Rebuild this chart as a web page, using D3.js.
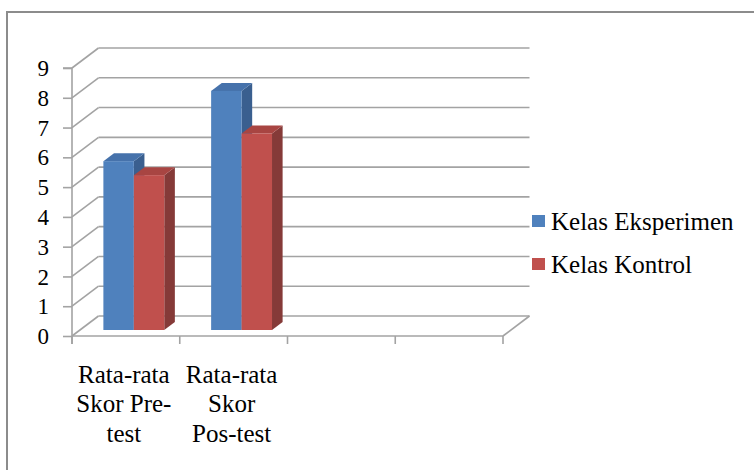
<!DOCTYPE html>
<html>
<head>
<meta charset="utf-8">
<script src="https://cdn.jsdelivr.net/npm/d3@7"></script>
</head>
<body style="margin:0;padding:0;background:#fff">
<svg id="chart" width="754" height="470" style="display:block"></svg>
<script>
// Category slots on the x axis (two empty slots keep the floor wide)
const categories = ["pre", "pos", "slot3", "slot4"];
const categoryLines = [
  ["Rata-rata", "Skor Pre-", "test"],
  ["Rata-rata", "Skor", "Pos-test"],
  [],
  []
];
const seriesNames = ["Kelas Eksperimen", "Kelas Kontrol"];
const kelasEksperimen = [5.67, 8.03, null, null];
const kelasKontrol = [5.2, 6.6, null, null];
const yTicks = [0, 1, 2, 3, 4, 5, 6, 7, 8, 9];

const SERIF = "Liberation Serif";

// serif text helper: family and size set inline with priority
function serif(sel, size) {
  return sel.attr("font-family", SERIF).attr("font-size", size)
    .style("font-family", SERIF, "important")
    .style("font-size", size + "px", "important")
    .attr("fill", "#000");
}

const svg = d3.select("#chart");
const W = 754, H = 470;

svg.append("rect").attr("width", W).attr("height", H).attr("fill", "#fff");
// outer frame
svg.append("rect")
  .attr("x", 7).attr("y", 12).attr("width", W + 10).attr("height", H + 10)
  .attr("fill", "none").attr("stroke", "#8c8c8c").attr("stroke-width", 2);

// 3D projection: depth offset of the back wall
const DX = 26.5, DY = -20;
const y = d3.scaleLinear().domain([0, 9]).range([336, 68]);
const x = d3.scaleBand().domain(categories).range([72, 503]);
const xs = d3.scaleBand().domain(seriesNames).range([0, x.bandwidth()])
  .paddingInner(0).paddingOuter(0.77);

const gridColor = "#a3a3a3";
const grid = svg.append("g").attr("stroke", gridColor).attr("stroke-width", 1.6).attr("fill", "none");

// back wall gridlines and side wall diagonals
yTicks.forEach(v => {
  grid.append("line")
    .attr("x1", 72 + DX).attr("y1", y(v) + DY)
    .attr("x2", x.range()[1] + DX).attr("y2", y(v) + DY);
  grid.append("line")
    .attr("x1", 72).attr("y1", y(v))
    .attr("x2", 72 + DX).attr("y2", y(v) + DY);
});
// floor right edge
grid.append("line")
  .attr("x1", x.range()[1]).attr("y1", y(0))
  .attr("x2", x.range()[1] + DX).attr("y2", y(0) + DY);

// value axis (front)
const yAxis = d3.axisLeft(y).tickValues(yTicks).tickSize(9).tickPadding(14).tickFormat(d3.format("d"));
const gy = svg.append("g").attr("transform", "translate(72,0)").call(yAxis)
  .attr("font-family", SERIF).attr("font-size", 23);
gy.select(".domain").attr("stroke", gridColor).attr("stroke-width", 1.6).attr("d", `M-9,${y(9)}H0V${y(0) + 8}`);
gy.selectAll(".tick line").attr("stroke", gridColor).attr("stroke-width", 1.6);
serif(gy.selectAll(".tick text"), 23).attr("dy", "0.33em");

// category axis (front floor edge)
const gx = svg.append("g");
gx.append("line").attr("x1", 72).attr("x2", x.range()[1]).attr("y1", y(0)).attr("y2", y(0))
  .attr("stroke", gridColor).attr("stroke-width", 1.6);
const tickXs = categories.map(c => x(c)).concat([x.range()[1]]);
gx.selectAll("line.tk").data(tickXs).join("line").attr("class", "tk")
  .attr("x1", d => d).attr("x2", d => d).attr("y1", y(0)).attr("y2", y(0) + 8)
  .attr("stroke", gridColor).attr("stroke-width", 1.6);

// category labels
const lineBaselines = [383, 412, 442];
categories.forEach((c, i) => {
  const cx = x(c) + x.bandwidth() / 2 - 2;
  categoryLines[i].forEach((t, j) => {
    serif(svg.append("text"), 25).attr("x", cx).attr("y", lineBaselines[j])
      .attr("text-anchor", "middle").text(t);
  });
});

// bars: front plane sits 30% into the depth, back plane at 70%
const f0 = 0.3, f1 = 0.7;
const colors = {
  "Kelas Eksperimen": { front: "#4F81BD", top: "#4672AB", side: "#3A5F8F" },
  "Kelas Kontrol":    { front: "#C0504D", top: "#A84542", side: "#853A38" }
};
const seriesData = [
  { name: "Kelas Eksperimen", values: kelasEksperimen },
  { name: "Kelas Kontrol", values: kelasKontrol }
];
const bars = svg.append("g");
categories.forEach((c, i) => {
  seriesData.forEach(s => {
    const v = s.values[i];
    if (v == null) return;
    const col = colors[s.name];
    const xl = x(c) + xs(s.name) + DX * f0;
    const xr = xl + xs.bandwidth();
    const yb = y(0) + DY * f0;
    const yt = y(v) + DY * f0;
    const ddx = DX * (f1 - f0), ddy = DY * (f1 - f0);
    // side face
    bars.append("path").attr("fill", col.side)
      .attr("d", `M${xr},${yb}L${xr + ddx},${yb + ddy}L${xr + ddx},${yt + ddy}L${xr},${yt}Z`);
    // top face
    bars.append("path").attr("fill", col.top)
      .attr("d", `M${xl},${yt}L${xl + ddx},${yt + ddy}L${xr + ddx},${yt + ddy}L${xr},${yt}Z`);
    // front face
    bars.append("rect").attr("fill", col.front)
      .attr("x", xl).attr("y", yt).attr("width", xr - xl).attr("height", yb - yt);
  });
});

// legend
const legend = svg.append("g");
seriesData.forEach((s, i) => {
  const ly = 230 + i * 43;
  legend.append("rect").attr("x", 532).attr("y", ly - 15).attr("width", 13).attr("height", 12)
    .attr("fill", colors[s.name].front);
  serif(legend.append("text"), 25).attr("x", 551).attr("y", ly).text(s.name);
});
</script>
</body>
</html>
